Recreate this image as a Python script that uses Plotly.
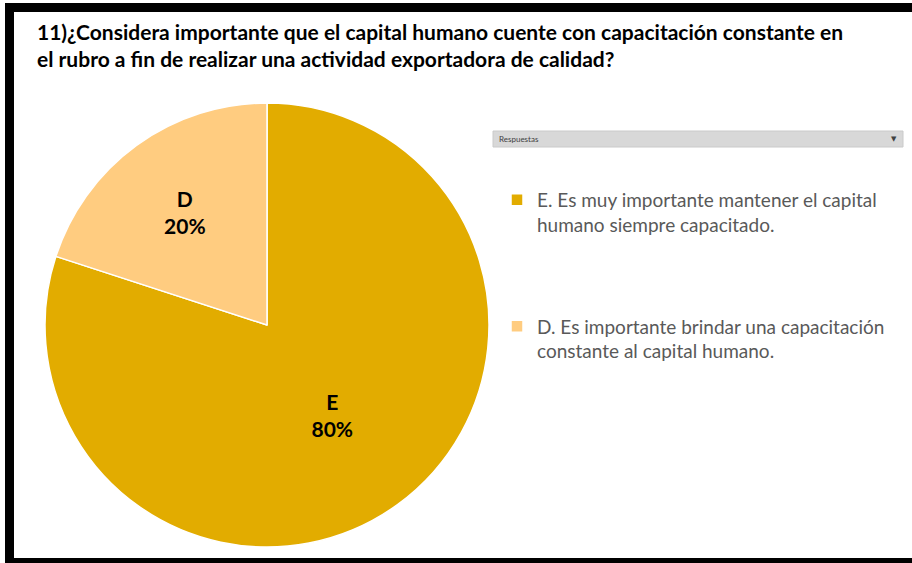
import plotly.graph_objects as go

# datos
letras = ["E", "D"]
respuestas = [
    "E. Es muy importante mantener el capital<br>humano siempre capacitado.<br> <br> <br> ",
    "D. Es importante brindar una capacitación<br>constante al capital humano.",
]
porcentajes = [80, 20]
colores = ["#E2AC00", "#FFCC80"]

W, H = 912, 563

fig = go.Figure()
fig.add_trace(go.Pie(
    labels=respuestas, values=porcentajes, text=letras,
    sort=False, direction="clockwise", rotation=0,
    marker=dict(colors=colores, line=dict(color="white", width=1.5)),
    texttemplate="<b>%{text}<br>%{percent:.0%}</b>",
    textposition="inside", insidetextorientation="horizontal",
    textfont=dict(family="Lato", size=21, color="black"),
    hoverinfo="skip",
    domain=dict(x=[45 / W, 489 / W], y=[14 / H, 462 / H]),
))

# marco negro
negro = dict(type="rect", xref="paper", yref="paper", fillcolor="black", line_width=0, layer="above")
shapes = [
    dict(negro, x0=5 / W, x1=14 / W, y0=0, y1=1 - 3 / H),
    dict(negro, x0=5 / W, x1=1, y0=1 - 12 / H, y1=1 - 3 / H),
    dict(negro, x0=5 / W, x1=1, y0=0, y1=5 / H),
    # barra "Respuestas"
    dict(type="rect", xref="paper", yref="paper", x0=493 / W, x1=903 / W,
         y0=1 - 147 / H, y1=1 - 131 / H, fillcolor="#D8D8D8", line=dict(color="#CACACA", width=1)),
]

fig.update_layout(
    width=W, height=H,
    margin=dict(l=0, r=0, t=0, b=0),
    paper_bgcolor="white", plot_bgcolor="white",
    shapes=shapes,
    showlegend=True,
    legend=dict(x=497 / W, y=1 - 181 / H, xanchor="left", yanchor="top",
                valign="top", itemwidth=30,
                font=dict(family="Lato", size=19, color="#595959")),
    annotations=[
        dict(text="<b>11)¿Considera importante que el capital humano cuente con capacitación constante en<br>"
                  "el rubro a fin de realizar una actividad exportadora de calidad?</b>",
             xref="paper", yref="paper", x=35 / W, y=1 - 17 / H, xanchor="left", yanchor="top",
             align="left", showarrow=False,
             font=dict(family="Lato", size=21, color="black")),
        dict(text="Respuestas", xref="paper", yref="paper", x=497 / W, y=1 - 139 / H,
             xanchor="left", yanchor="middle", showarrow=False,
             font=dict(family="Lato", size=8, color="#404040")),
        dict(text="▼", xref="paper", yref="paper", x=899 / W, y=1 - 139 / H,
             xanchor="right", yanchor="middle", showarrow=False,
             font=dict(family="DejaVu Sans", size=7, color="#404040")),
    ],
)

fig.write_html("out.html", config={"displayModeBar": False},
               post_script="document.body.style.margin='0';")
